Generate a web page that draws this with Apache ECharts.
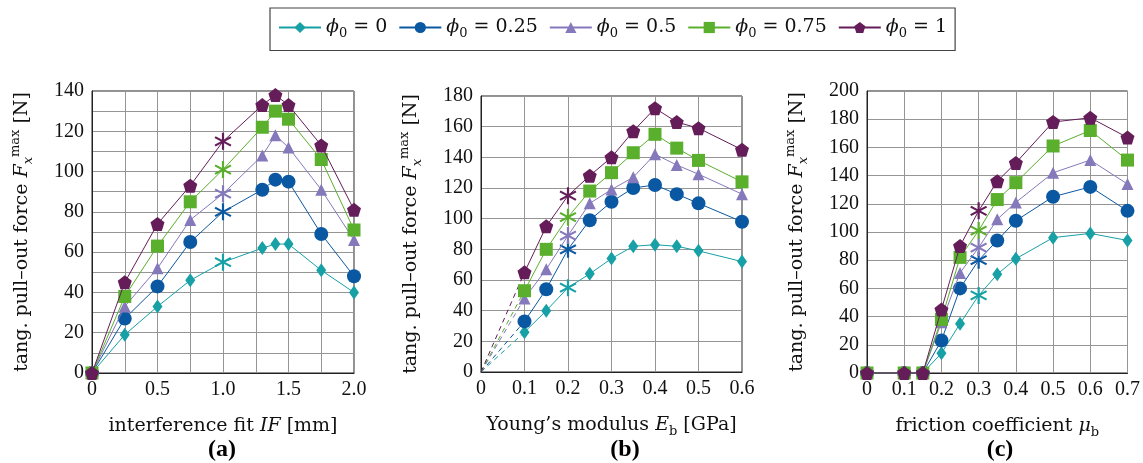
<!DOCTYPE html>
<html><head><meta charset="utf-8">
<script src="https://cdn.jsdelivr.net/npm/echarts@6/dist/echarts.min.js"></script>
<style>html,body{margin:0;padding:0;background:#fff}#c{width:1143px;height:463px}</style>
</head><body><div id="c"></div>
<script>
// ---- data ----
const phiLabels = ['0', '0.25', '0.5', '0.75', '1'];

const xA = [0, 0.25, 0.5, 0.75, 1.0, 1.3, 1.4, 1.5, 1.75, 2.0];
const yA_phi0   = [0, 19, 33, 46, 55, 62, 64, 64, 51, 40];
const yA_phi025 = [0, 27, 43, 65, 80, 91, 96, 95, 69, 48];
const yA_phi05  = [0, 33, 52, 76, 89, 108, 118, 112, 91, 66];
const yA_phi075 = [0, 38, 63, 85, 101, 122, 130, 126, 106, 71];
const yA_phi1   = [0, 45, 74, 93, 115, 133, 138, 133, 113, 81];

const xB = [0.1, 0.15, 0.2, 0.25, 0.3, 0.35, 0.4, 0.45, 0.5, 0.6];
const yB_phi0   = [26, 40, 55, 64, 74, 82, 83, 82, 79, 72];
const yB_phi025 = [33, 54, 80, 99, 111, 120, 122, 116, 110, 98];
const yB_phi05  = [48, 67, 89, 110, 119, 127, 142, 135, 129, 116];
const yB_phi075 = [53, 80, 101, 118, 130, 143, 155, 146, 138, 124];
const yB_phi1   = [65, 95, 115, 128, 140, 157, 172, 163, 159, 145];
const originB = [0, 0];

const xC = [0, 0.1, 0.15, 0.2, 0.25, 0.3, 0.35, 0.4, 0.5, 0.6, 0.7];
const yC_phi0   = [0, 0, 0, 14, 35, 55, 70, 81, 96, 99, 94];
const yC_phi025 = [0, 0, 0, 23, 60, 80, 94, 108, 125, 132, 115];
const yC_phi05  = [0, 0, 0, 36, 71, 89, 109, 121, 142, 151, 134];
const yC_phi075 = [0, 0, 0, 38, 82, 101, 123, 135, 161, 172, 151];
const yC_phi1   = [0, 0, 0, 45, 90, 115, 136, 149, 178, 181, 167];

// x value of the reference configuration (asterisk marker) in each panel
const refX = [1.0, 0.2, 0.3];

const yMaxA = 140, yMaxB = 180, yMaxC = 200;
const xMaxA = 2.0, xMaxB = 0.6, xMaxC = 0.7;

// ---- styles ----
const FONT = '"Liberation Serif","DejaVu Serif",serif';
const FONT2 = '"DejaVu Serif","Liberation Serif",serif';
const colors = ['#17a0a6', '#0b58a2', '#8579bb', '#5aaf2c', '#651d59'];
const pentagon = 'path://M0,-1 L0.951,-0.309 L0.588,0.809 L-0.588,0.809 L-0.951,-0.309 Z';
const asterisk = 'path://M-0.12,-1 L0.12,-1 L0.12,1 L-0.12,1 Z M0.806,-0.604 L0.926,-0.396 L-0.806,0.604 L-0.926,0.396 Z M-0.926,-0.396 L-0.806,-0.604 L0.926,0.396 L0.806,0.604 Z';
const symbols = ['diamond', 'circle', 'triangle', 'rect', pentagon];
const sizes = [[10, 14], 14, 12, 13, 14];

const panels = [
  { xs: xA, ys: [yA_phi0, yA_phi025, yA_phi05, yA_phi075, yA_phi1], ref: refX[0] },
  { xs: xB, ys: [yB_phi0, yB_phi025, yB_phi05, yB_phi075, yB_phi1], ref: refX[1], origin: originB },
  { xs: xC, ys: [yC_phi0, yC_phi025, yC_phi05, yC_phi075, yC_phi1], ref: refX[2] }
];

const grids = [
  { left: 92, right: 789, top: 91, bottom: 90 },
  { left: 481, right: 401, top: 96, bottom: 91 },
  { left: 867, right: 14, top: 91, bottom: 90 }
].map(g => Object.assign(g, { show: true, borderColor: '#222', borderWidth: 1, containLabel: false }));

const gridLine = { show: true, lineStyle: { color: '#959595', width: 1 } };
const fmtX = v => (v === 0 ? '0' : (+v).toFixed(1));
const nameRich = {
  i: { fontFamily: FONT2, fontStyle: 'italic', fontSize: 19, color: '#111', lineHeight: 26 },
  s: { fontFamily: FONT2, fontSize: 13, color: '#111', verticalAlign: 'bottom', lineHeight: 14 },
  si: { fontFamily: FONT2, fontStyle: 'italic', fontSize: 13, color: '#111', verticalAlign: 'bottom', lineHeight: 14 },
  u: { fontFamily: FONT2, fontSize: 13, color: '#111', verticalAlign: 'top', lineHeight: 14 }
};

function xAxis(idx, max, interval, minorSplit, name) {
  return {
    type: 'value', gridIndex: idx, min: 0, max: max, interval: interval,
    axisLine: { show: true, lineStyle: { color: '#222', width: 1 } },
    axisTick: { show: false },
    axisLabel: { formatter: fmtX, fontFamily: FONT, fontSize: 20, color: '#111', margin: 7 },
    splitLine: gridLine,
    minorTick: { show: false, splitNumber: minorSplit || 5 },
    minorSplitLine: Object.assign({}, gridLine, { show: !!minorSplit }),
    name: name, nameLocation: 'middle', nameGap: 40,
    nameTextStyle: { fontFamily: FONT2, fontSize: 19, color: '#111', rich: nameRich }
  };
}
function yAxis(idx, max, minorSplit) {
  return {
    type: 'value', gridIndex: idx, min: 0, max: max, interval: 20,
    axisLine: { show: true, lineStyle: { color: '#222', width: 1 } },
    axisTick: { show: false },
    axisLabel: { fontFamily: FONT, fontSize: 20, color: '#111', margin: 8 },
    splitLine: gridLine,
    minorTick: { show: false, splitNumber: minorSplit || 5 },
    minorSplitLine: Object.assign({}, gridLine, { show: !!minorSplit }),
    name: 'tang. pull–out force {i|F}{si|x}{u|max} [N]',
    nameLocation: 'middle', nameGap: 57,
    nameTextStyle: { fontFamily: FONT2, fontSize: 19, color: '#111', rich: nameRich }
  };
}

const series = [];
panels.forEach((p, pi) => {
  p.ys.forEach((ys, si) => {
    if (p.origin) {
      series.push({
        type: 'line', xAxisIndex: pi, yAxisIndex: pi, name: '_dash' + si,
        data: [p.origin, [p.xs[0], ys[0]]], showSymbol: false, silent: true,
        lineStyle: { color: colors[si], width: 1, type: [5, 4] }, z: 1, clip: false
      });
    }
  });
  p.ys.forEach((ys, si) => {
    const data = p.xs.map((x, k) => {
      const item = { value: [x, ys[k]] };
      if (Math.abs(x - p.ref) < 1e-9) { item.symbol = asterisk; item.symbolSize = 17; }
      return item;
    });
    series.push({
      type: 'line', name: phiLabels[si], xAxisIndex: pi, yAxisIndex: pi,
      data: data, symbol: symbols[si], symbolSize: sizes[si],
      itemStyle: { color: colors[si] }, lineStyle: { color: colors[si], width: 1 },
      clip: false, z: 2 + si
    });
  });
});

const option = {
  animation: false,
  backgroundColor: '#fff',
  legend: {
    data: phiLabels, left: 270, top: 8, orient: 'horizontal',
    padding: [10, 8, 10, 8], itemGap: 11, itemWidth: 42, itemHeight: 14,
    borderColor: '#444', borderWidth: 1.2,
    formatter: n => '{i|ϕ}{s|0}{t| = ' + n + '}',
    textStyle: {
      fontFamily: FONT2, fontSize: 19, color: '#111',
      rich: {
        i: { fontFamily: FONT2, fontStyle: 'italic', fontSize: 19, lineHeight: 26 },
        s: { fontFamily: FONT2, fontSize: 13, verticalAlign: 'bottom', lineHeight: 16 },
        t: { fontFamily: FONT2, fontSize: 19, lineHeight: 26 }
      }
    }
  },
  title: [
    { text: '(a)', left: 222, top: 438, textAlign: 'center' },
    { text: '(b)', left: 625, top: 438, textAlign: 'center' },
    { text: '(c)', left: 1000, top: 438, textAlign: 'center' }
  ].map(t => Object.assign(t, { padding: 0, textStyle: { fontFamily: FONT, fontWeight: 'bold', fontSize: 24, color: '#000' } })),
  grid: grids,
  xAxis: [
    xAxis(0, xMaxA, 0.5, 2, 'interference fit {i|IF} [mm]'),
    xAxis(1, xMaxB, 0.1, 0, 'Young’s modulus {i|E}{s|b} [GPa]'),
    xAxis(2, xMaxC, 0.1, 0, 'friction coefficient {i|μ}{s|b}')
  ],
  yAxis: [yAxis(0, yMaxA, 2), yAxis(1, yMaxB, 0), yAxis(2, yMaxC, 0)],
  series: series
};
const chart = echarts.init(document.getElementById('c'), null, { renderer: 'canvas' });
chart.setOption(option);
</script></body></html>
